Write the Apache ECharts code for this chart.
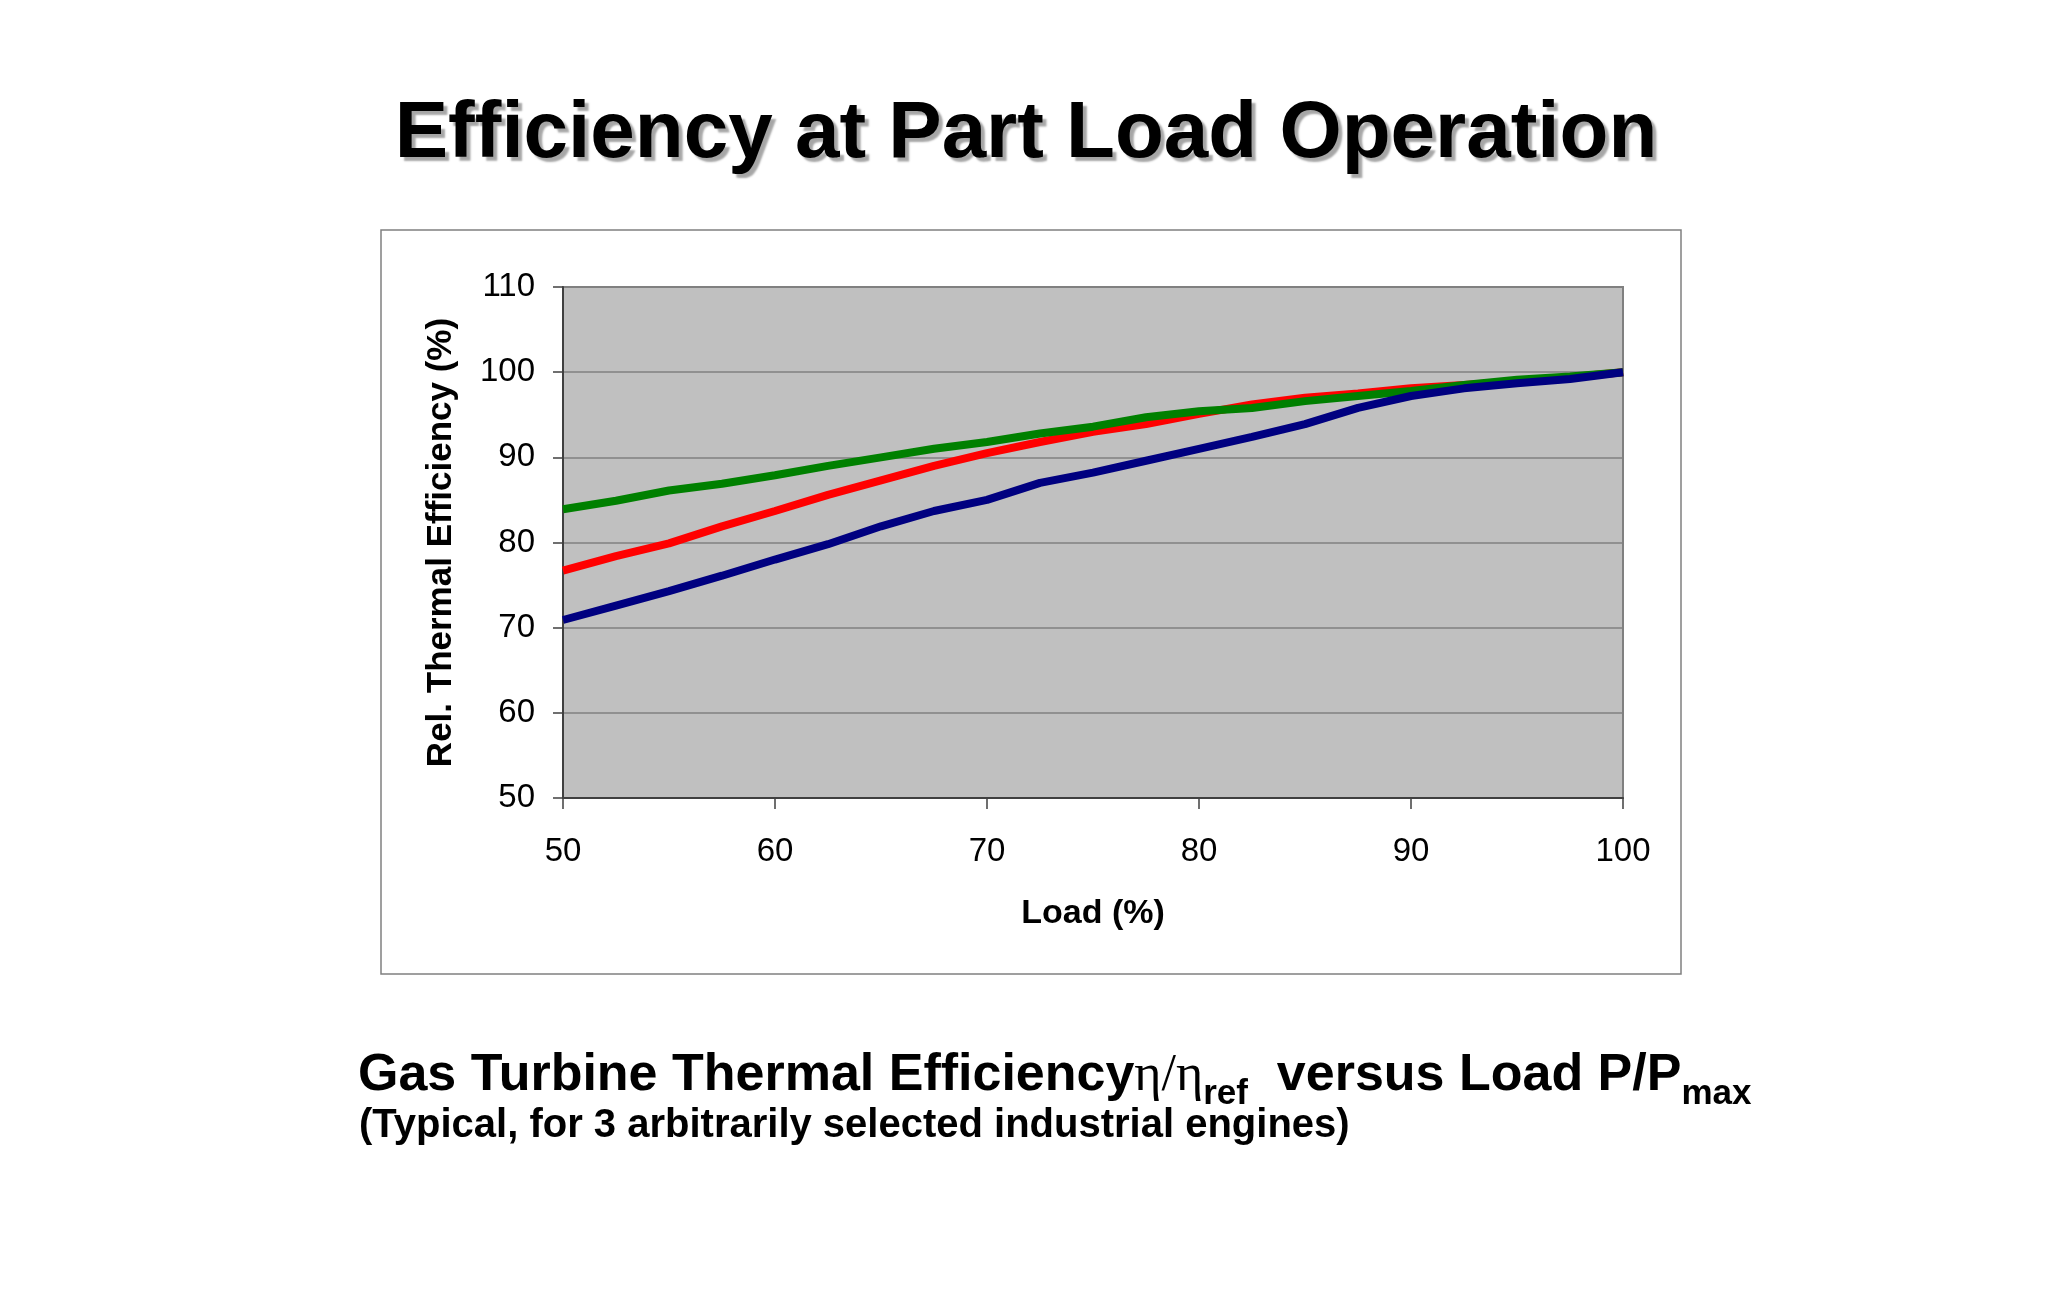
<!DOCTYPE html>
<html>
<head>
<meta charset="utf-8">
<title>Efficiency at Part Load Operation</title>
<script src="https://cdn.jsdelivr.net/npm/echarts@6/dist/echarts.min.js"></script>
<style>
  html, body { margin: 0; padding: 0; background: #fff; }
  #chart { width: 2048px; height: 1311px; }
</style>
</head>
<body>
<div id="chart"></div>
<script>
// load points (%)
const loadPct = [50, 52.5, 55, 57.5, 60, 62.5, 65, 67.5, 70, 72.5, 75, 77.5, 80, 82.5, 85, 87.5, 90, 92.5, 95, 97.5, 100]
// relative thermal efficiency (%) of the three engines
const engineRed = [76.7, 78.4, 79.9, 81.9, 83.7, 85.6, 87.3, 89.0, 90.5, 91.8, 93.0, 93.9, 95.1, 96.2, 97.0, 97.5, 98.1, 98.5, 98.9, 99.4, 100]
const engineGreen = [83.9, 84.9, 86.1, 86.9, 87.9, 89.0, 90.0, 91.0, 91.8, 92.8, 93.6, 94.7, 95.4, 95.8, 96.6, 97.2, 97.8, 98.5, 99.1, 99.5, 100]
const engineBlue = [70.9, 72.6, 74.3, 76.1, 78.0, 79.8, 81.9, 83.7, 85.0, 87.0, 88.2, 89.6, 91.0, 92.4, 93.9, 95.8, 97.2, 98.1, 98.7, 99.2, 100]
const xTicks = [50, 60, 70, 80, 90, 100]
const yTicks = [50, 60, 70, 80, 90, 100, 110]

const FONT = '"Liberation Sans", Arial, sans-serif'

function pairs(ys) {
  return loadPct.map((x, i) => [x, ys[i]])
}

const chart = echarts.init(document.getElementById('chart'), null, { renderer: 'canvas' })

const option = {
  backgroundColor: '#ffffff',
  animation: false,
  grid: {
    left: 563, top: 287, width: 1060, height: 511,
    show: true,
    backgroundColor: '#c0c0c0',
    borderColor: '#808080',
    borderWidth: 2
  },
  xAxis: {
    type: 'value',
    min: xTicks[0], max: xTicks[xTicks.length - 1], interval: 10,
    name: 'Load (%)',
    nameLocation: 'middle',
    nameGap: 99,
    nameTextStyle: { fontFamily: FONT, fontWeight: 'bold', fontSize: 34, color: '#000', verticalAlign: 'top' },
    axisLine: { show: true, lineStyle: { color: '#404040', width: 2 } },
    axisTick: { show: true, length: 11, lineStyle: { color: '#404040', width: 1.5 } },
    axisLabel: { fontFamily: FONT, fontSize: 33, color: '#000', margin: 37 },
    splitLine: { show: false }
  },
  yAxis: {
    type: 'value',
    min: yTicks[0], max: yTicks[yTicks.length - 1], interval: 10,
    name: 'Rel. Thermal Efficiency (%)',
    nameLocation: 'middle',
    nameGap: 104,
    nameTextStyle: { fontFamily: FONT, fontWeight: 'bold', fontSize: 35, color: '#000' },
    axisLine: { show: true, lineStyle: { color: '#404040', width: 2 } },
    axisTick: { show: true, length: 10, lineStyle: { color: '#404040', width: 1.5 } },
    axisLabel: { fontFamily: FONT, fontSize: 33, color: '#000', margin: 28 },
    splitLine: { show: true, lineStyle: { color: '#808080', width: 1.5 } }
  },
  series: [
    { name: 'Engine 1', type: 'line', data: pairs(engineRed), showSymbol: false, color: '#ff0000', lineStyle: { width: 8, color: '#ff0000' } },
    { name: 'Engine 2', type: 'line', data: pairs(engineGreen), showSymbol: false, color: '#008000', lineStyle: { width: 8, color: '#008000' } },
    { name: 'Engine 3', type: 'line', data: pairs(engineBlue), showSymbol: false, color: '#000080', lineStyle: { width: 8, color: '#000080' } }
  ],
  graphic: [
    // outer chart frame
    {
      type: 'rect', z: -1,
      shape: { x: 381, y: 230, width: 1300, height: 744 },
      style: { fill: 'none', stroke: '#808080', lineWidth: 1.5 }
    },
    // slide title with shadow
    {
      type: 'text', x: 1026, y: 135,
      style: {
        text: 'Efficiency at Part Load Operation',
        font: 'bold 80px ' + FONT,
        fill: '#000',
        align: 'center', verticalAlign: 'middle',
        textAlign: 'center', textVerticalAlign: 'middle',
        textShadowColor: 'rgba(0,0,0,0.35)',
        textShadowOffsetX: 4, textShadowOffsetY: 4, textShadowBlur: 2
      }
    },
    // caption, first line with subscripts
    {
      type: 'text', x: 358, y: 1076,
      style: {
        text: '{b|Gas Turbine Thermal Efficiency}{g|η/η}{s|ref}{b|  versus Load P/P}{s|max}',
        align: 'left', verticalAlign: 'middle',
        textAlign: 'left', textVerticalAlign: 'middle',
        fill: '#000',
        rich: {
          b: { fontFamily: FONT, fontWeight: 'bold', fontSize: 52, fill: '#000' },
          g: { fontFamily: '"Liberation Serif", "DejaVu Serif", serif', fontWeight: 'normal', fontSize: 52, fill: '#000' },
          s: { fontFamily: FONT, fontWeight: 'bold', fontSize: 35, fill: '#000', padding: [36, 0, 0, 0] }
        }
      }
    },
    // caption, second line
    {
      type: 'text', x: 359, y: 1126,
      style: {
        text: '(Typical, for 3 arbitrarily selected industrial engines)',
        font: 'bold 40px ' + FONT,
        fill: '#000',
        align: 'left', verticalAlign: 'middle',
        textAlign: 'left', textVerticalAlign: 'middle'
      }
    }
  ]
}

chart.setOption(option)
</script>
</body>
</html>
